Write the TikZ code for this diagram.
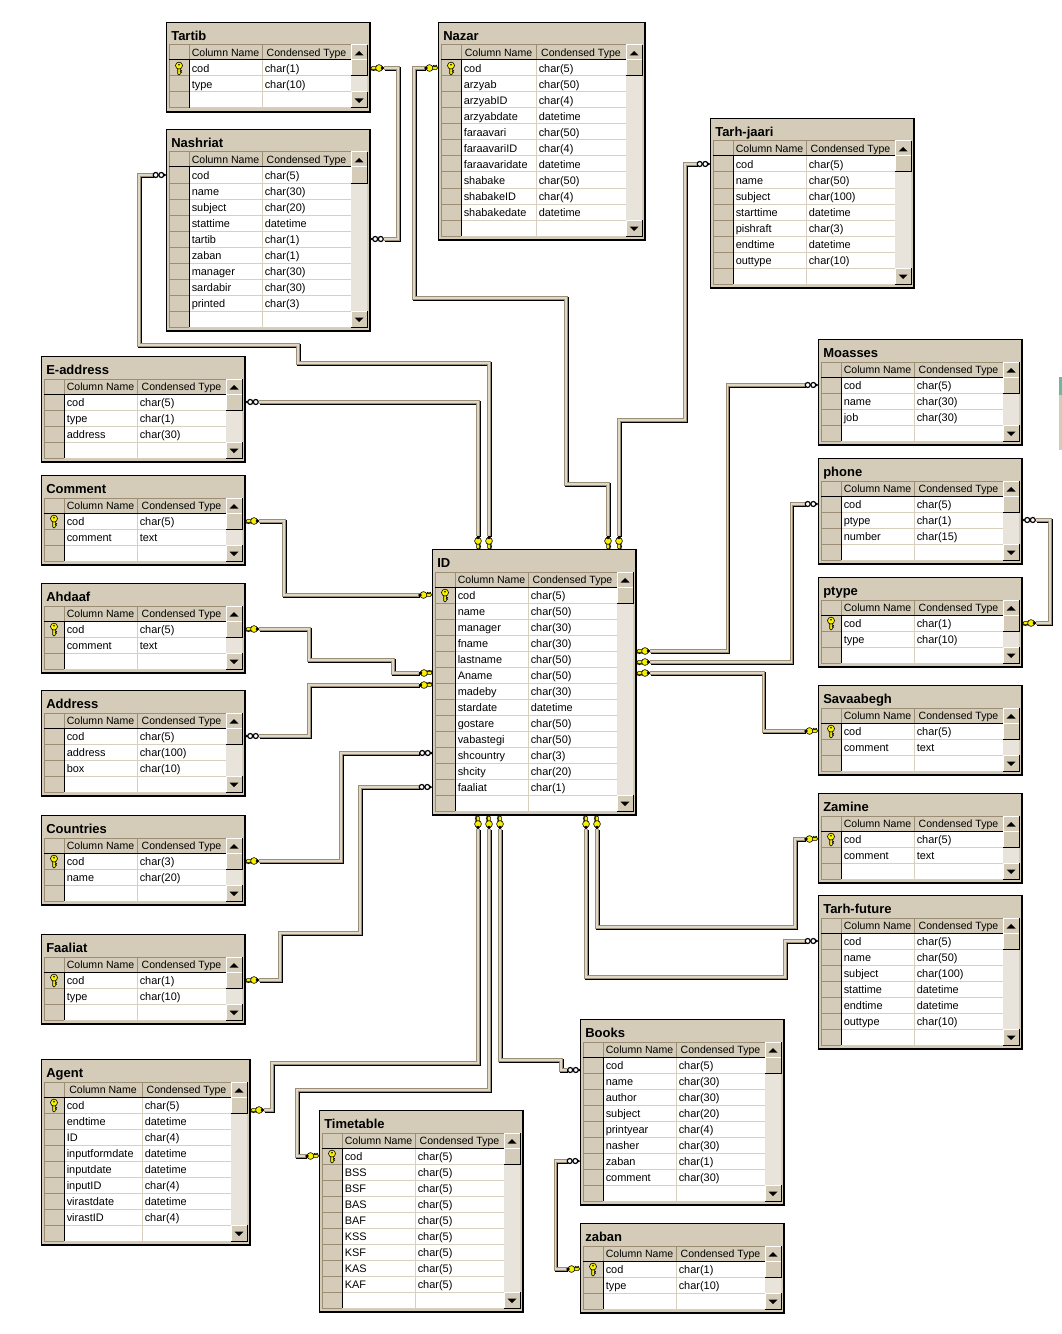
\documentclass[tikz,border=0pt]{standalone}
\usepackage{fontspec}
\setmainfont{Liberation Sans}
\usepackage{tikz}
\usetikzlibrary{positioning}

\definecolor{panelTan}{HTML}{D4CCB8}
\definecolor{trackTan}{HTML}{E8E4DB}
\definecolor{gridTan}{HTML}{D8D0BE}
\definecolor{edgeBrown}{HTML}{9C8E74}
\definecolor{lineCream}{HTML}{DED8CA}
\definecolor{keyYellow}{HTML}{F8F000}
\definecolor{sliverTeal}{HTML}{6DB89F}

\tikzset{
    tableframe/.style={draw=black, line width=.85pt, fill=panelTan, rectangle, inner sep=0pt, outer sep=0pt},
    tabletitle/.style={anchor=west, inner sep=0pt, font=\fontsize{9.75}{11}\selectfont\bfseries, text height=7.5pt, text depth=2pt},
    celltext/.style={inner sep=0pt, font=\fontsize{8.2}{10}\selectfont, text height=8pt, text depth=1.6pt},
    headtext/.style={celltext, font=\fontsize{7.9}{10}\selectfont},
    gridline/.style={draw=gridTan, line width=.75pt},
    cellline/.style={draw=edgeBrown, line width=.75pt},
    darkline/.style={draw=black, line width=.75pt},
    relline/.style={
        preaction={draw=black, line width=2.3pt, transform canvas={xshift=.75pt, yshift=-.75pt}},
        draw=edgeBrown, line width=.72pt, double=lineCream, double distance=.85pt,
        shorten <=10.5pt, shorten >=10.5pt},
    % key at the one side of a relationship, teeth against the table
    keyend/.pic={
        \draw[line width=.45pt, fill=keyYellow] (1,0) -- (2,-1.4) -- (7,-1.4) -- (7,1.4) -- (5.5,1.4) -- (5,2.6) -- (4.2,1.4) -- (3.5,2.6) -- (2.8,1.4) -- (2,2.6) -- cycle;
        \draw[line width=.45pt, fill=keyYellow] (9,0) circle (3.4);
        \fill[black] (12.5,0) circle (1.8);
    },
    % two links at the many side of a relationship
    infend/.pic={
        \draw[line width=.9pt, fill=white] (5.2,0) circle (2.5);
        \draw[line width=.9pt, fill=white] (10.8,0) circle (2.5);
        \fill[black] (1.8,0) circle (1.3);
    },
    % primary key mark in the selector column
    keymark/.pic={
        \draw[line width=.45pt, fill=keyYellow] (-1.3,0) -- (1.3,0) -- (1.3,2) -- (2.6,2.6) -- (1.3,3.4) -- (2.6,4.2) -- (1.3,5) -- (1.3,5.8) -- (0,7) -- (-1.3,5.8) -- cycle;
        \draw[line width=.45pt, fill=keyYellow] (0,-2.4) circle (3.5);
        \fill[black] (0,-3.2) circle (.9);
    }
}

% button of a table's scroll bar: x, y, arrow (1 up, -1 down, 0 none)
\newcommand{\scrollbtn}[3]{
    \fill[panelTan] (#1,#2) rectangle ++(16,16);
    \draw[white, line width=.75pt] (#1,#2+15.5) -- (#1,#2) -- (#1+16,#2);
    \draw[black, line width=.75pt] (#1,#2+16) -- (#1+16,#2+16) -- (#1+16,#2);
    \ifnum#3=1 \fill[black] (#1+3.5,#2+10.5) -- (#1+12.5,#2+10.5) -- (#1+8,#2+6) -- cycle; \fi
    \ifnum#3=-1 \fill[black] (#1+3.5,#2+6.5) -- (#1+12.5,#2+6.5) -- (#1+8,#2+11) -- cycle; \fi
}

% id, left, top, width, name column, rows with the blank one, key mark (1/0), rows
\newcommand{\dbtable}[8]{
    \pgfmathsetmacro\rowsbot{37+16*#6}
    \pgfmathsetmacro\namex{22+#5}
    \pgfmathsetmacro\scrollx{#4-19}
    \node[tableframe, anchor=north west, minimum width=(#4+.5)*.75pt, minimum height=(41.5+16*#6)*.75pt] (#1) at (#2-.5,#3-.5) {};
    \begin{scope}[shift={(#2,#3)}]
        \node[tabletitle] (#1-title) at (4,13.6) {#1};
        \fill[white] (22,37) rectangle (\scrollx,\rowsbot);
        \fill[trackTan] (\scrollx,37) rectangle (#4-3,\rowsbot);
        \foreach \k in {1,...,#6} {
            \draw[gridline] (22,37+16*\k) -- (\scrollx,37+16*\k);
            \draw[cellline] (2,37+16*\k) -- (22,37+16*\k);
        }
        \draw[gridline] (\namex,37) -- (\namex,\rowsbot);
        \draw[cellline] (2,22) -- (\scrollx,22);
        \draw[cellline] (2,22) -- (2,\rowsbot);
        \draw[cellline] (22,22) -- (22,37);
        \draw[cellline] (\namex,22) -- (\namex,37);
        \draw[darkline] (2,37) -- (\scrollx,37);
        \draw[darkline] (22,37) -- (22,\rowsbot);
        \node[headtext] (#1-hname) at ({22+#5/2},29.2) {Column Name};
        \node[headtext] (#1-htype) at ({(\namex+\scrollx)/2},29.2) {Condensed Type};
        \foreach \cname/\ctype [count=\i] in {#8} {
            \node[celltext, anchor=west] (#1-\i) at (24.5,29+16*\i) {\cname};
            \node[celltext, anchor=west] (#1-t\i) at (\namex+2.5,29+16*\i) {\ctype};
        }
        \scrollbtn{\scrollx}{22}{1}
        \scrollbtn{\scrollx}{37}{0}
        \scrollbtn{\scrollx}{\rowsbot-16}{-1}
        \ifnum#7=1 \pic at (12,45) {keymark}; \fi
    \end{scope}
}

\begin{document}
\begin{tikzpicture}[x=.75pt, y=-.75pt]
    \useasboundingbox (0,0) rectangle (1062,1334);

    % Tables of the top row
    \dbtable{Tartib}{167}{23}{203}{73}{3}{1}{cod/char(1),type/char(10)}
    \dbtable{Nashriat}{167}{130}{203}{73}{10}{0}{cod/char(5),name/char(30),subject/char(20),stattime/datetime,tartib/char(1),zaban/char(1),manager/char(30),sardabir/char(30),printed/char(3)}
    \dbtable{Nazar}{439}{23}{206}{75}{11}{1}{cod/char(5),arzyab/char(50),arzyabID/char(4),arzyabdate/datetime,faraavari/char(50),faraavariID/char(4),faraavaridate/datetime,shabake/char(50),shabakeID/char(4),shabakedate/datetime}
    \dbtable{Tarh-jaari}{711}{119}{203}{73}{8}{0}{cod/char(5),name/char(50),subject/char(100),starttime/datetime,pishraft/char(3),endtime/datetime,outtype/char(10)}

    % Tables of the left column
    \dbtable{E-address}{42}{357}{203}{73}{4}{0}{cod/char(5),type/char(1),address/char(30)}
    \dbtable{Comment}{42}{476}{203}{73}{3}{1}{cod/char(5),comment/text}
    \dbtable{Ahdaaf}{42}{584}{203}{73}{3}{1}{cod/char(5),comment/text}
    \dbtable{Address}{42}{691}{203}{73}{4}{0}{cod/char(5),address/char(100),box/char(10)}
    \dbtable{Countries}{42}{816}{203}{73}{3}{1}{cod/char(3),name/char(20)}
    \dbtable{Faaliat}{42}{935}{203}{73}{3}{1}{cod/char(1),type/char(10)}
    \dbtable{Agent}{42}{1060}{208}{78}{9}{1}{cod/char(5),endtime/datetime,ID/char(4),inputformdate/datetime,inputdate/datetime,inputID/char(4),virastdate/datetime,virastID/char(4)}

    % The central table
    \dbtable{ID}{433}{550}{203}{73}{14}{1}{cod/char(5),name/char(50),manager/char(30),fname/char(30),lastname/char(50),Aname/char(50),madeby/char(30),stardate/datetime,gostare/char(50),vabastegi/char(50),shcountry/char(3),shcity/char(20),faaliat/char(1)}

    % Tables of the bottom row
    \dbtable{Timetable}{320}{1111}{203}{73}{10}{1}{cod/char(5),BSS/char(5),BSF/char(5),BAS/char(5),BAF/char(5),KSS/char(5),KSF/char(5),KAS/char(5),KAF/char(5)}
    \dbtable{Books}{581}{1020}{203}{73}{9}{0}{cod/char(5),name/char(30),author/char(30),subject/char(20),printyear/char(4),nasher/char(30),zaban/char(1),comment/char(30)}
    \dbtable{zaban}{581}{1224}{203}{73}{3}{1}{cod/char(1),type/char(10)}

    % Tables of the right column
    \dbtable{Moasses}{819}{340}{203}{73}{4}{0}{cod/char(5),name/char(30),job/char(30)}
    \dbtable{phone}{819}{459}{203}{73}{4}{0}{cod/char(5),ptype/char(1),number/char(15)}
    \dbtable{ptype}{819}{578}{203}{73}{3}{1}{cod/char(1),type/char(10)}
    \dbtable{Savaabegh}{819}{686}{203}{73}{3}{1}{cod/char(5),comment/text}
    \dbtable{Zamine}{819}{794}{203}{73}{3}{1}{cod/char(5),comment/text}
    \dbtable{Tarh-future}{819}{896}{203}{73}{7}{0}{cod/char(5),name/char(50),subject/char(100),stattime/datetime,endtime/datetime,outtype/char(10)}

    % Where the connectors meet the central table
    \coordinate (IDtop1) at (478,550);
    \coordinate (IDtop2) at (489,550);
    \coordinate (IDtop3) at (608,550);
    \coordinate (IDtop4) at (619,550);
    \coordinate (IDbot1) at (478,815);
    \coordinate (IDbot2) at (489,815);
    \coordinate (IDbot3) at (500,815);
    \coordinate (IDbot4) at (586,815);
    \coordinate (IDbot5) at (597,815);
    \coordinate (IDleft2) at (433,673);
    \coordinate (IDleft3) at (433,685);
    \coordinate (IDleft4) at (433,753);
    \coordinate (IDright1) at (636,651);
    \coordinate (IDright2) at (636,662);
    \coordinate (IDright3) at (636,673);
    % Ends that sit off a row
    \coordinate (Agentport) at (250,1110);
    \coordinate (Booksport) at (581,1070);

    % 1. Tartib to Nashriat
    \draw[relline] (Tartib.east |- Tartib-1) -- ++(28,0) |- (Nashriat.east |- Nashriat-5);
    \pic at (Tartib.east |- Tartib-1) {keyend};
    \pic at (Nashriat.east |- Nashriat-5) {infend};

    % 2. Nazar to ID
    \draw[relline] (Nazar.west |- Nazar-1) -| (414,298) -| (566,484) -| (IDtop3);
    \pic[rotate=180] at (Nazar.west |- Nazar-1) {keyend};
    \pic[rotate=90] at (IDtop3) {keyend};

    % 3. Tarh-jaari to ID
    \draw[relline] (Tarh-jaari.west |- Tarh-jaari-1) -| (685,420) -| (IDtop4);
    \pic[rotate=180] at (Tarh-jaari.west |- Tarh-jaari-1) {infend};
    \pic[rotate=90] at (IDtop4) {keyend};

    % 4. Nashriat to ID
    \draw[relline] (Nashriat.west |- Nashriat-1) -| (139,345) -| (298,363) -| (IDtop2);
    \pic[rotate=180] at (Nashriat.west |- Nashriat-1) {infend};
    \pic[rotate=90] at (IDtop2) {keyend};

    % 5. E-address to ID
    \draw[relline] (E-address.east |- E-address-1) -| (IDtop1);
    \pic at (E-address.east |- E-address-1) {infend};
    \pic[rotate=90] at (IDtop1) {keyend};

    % 6. Comment to ID
    \draw[relline] (Comment.east |- Comment-1) -- ++(39,0) |- (ID.west |- ID-1);
    \pic at (Comment.east |- Comment-1) {keyend};
    \pic[rotate=180] at (ID.west |- ID-1) {keyend};

    % 7. Ahdaaf to ID
    \draw[relline] (Ahdaaf.east |- Ahdaaf-1) -| (309,660) -| (393,673) -- (IDleft2);
    \pic at (Ahdaaf.east |- Ahdaaf-1) {keyend};
    \pic[rotate=180] at (IDleft2) {keyend};

    % 8. Address to ID
    \draw[relline] (Address.east |- Address-1) -- ++(64,0) |- (IDleft3);
    \pic at (Address.east |- Address-1) {infend};
    \pic[rotate=180] at (IDleft3) {keyend};

    % 9. Countries to ID
    \draw[relline] (Countries.east |- Countries-1) -- ++(96,0) |- (IDleft4);
    \pic at (Countries.east |- Countries-1) {keyend};
    \pic[rotate=180] at (IDleft4) {infend};

    % 10. Faaliat to ID
    \draw[relline] (Faaliat.east |- Faaliat-1) -| (280,933) -| (360,787) -- (ID.west |- ID-13);
    \pic at (Faaliat.east |- Faaliat-1) {keyend};
    \pic[rotate=180] at (ID.west |- ID-13) {infend};

    % 11. Agent to ID
    \draw[relline] (Agentport) -| (272,1063) -| (IDbot1);
    \pic at (Agentport) {keyend};
    \pic[rotate=-90] at (IDbot1) {keyend};

    % 12. Timetable to ID
    \draw[relline] (Timetable.west |- Timetable-1) -| (297,1090) -| (IDbot2);
    \pic[rotate=180] at (Timetable.west |- Timetable-1) {keyend};
    \pic[rotate=-90] at (IDbot2) {keyend};

    % 13. Books to ID
    \draw[relline] (Booksport) -| (561,1060) -| (IDbot3);
    \pic[rotate=180] at (Booksport) {infend};
    \pic[rotate=-90] at (IDbot3) {keyend};

    % 14. zaban to Books
    \draw[relline] (zaban.west |- zaban-1) -- ++(-25,0) |- (Books.west |- Books-7);
    \pic[rotate=180] at (zaban.west |- zaban-1) {keyend};
    \pic[rotate=180] at (Books.west |- Books-7) {infend};

    % 15. Tarh-future to ID
    \draw[relline] (Tarh-future.west |- Tarh-future-1) -| (785,977) -| (IDbot4);
    \pic[rotate=180] at (Tarh-future.west |- Tarh-future-1) {infend};
    \pic[rotate=-90] at (IDbot4) {keyend};

    % 16. Zamine to ID
    \draw[relline] (Zamine.west |- Zamine-1) -| (795,927) -| (IDbot5);
    \pic[rotate=180] at (Zamine.west |- Zamine-1) {keyend};
    \pic[rotate=-90] at (IDbot5) {keyend};

    % 17. Moasses to ID
    \draw[relline] (Moasses.west |- Moasses-1) -- ++(-91,0) |- (IDright1);
    \pic[rotate=180] at (Moasses.west |- Moasses-1) {infend};
    \pic at (IDright1) {keyend};

    % 18. phone to ID
    \draw[relline] (phone.west |- phone-1) -- ++(-27,0) |- (IDright2);
    \pic[rotate=180] at (phone.west |- phone-1) {infend};
    \pic at (IDright2) {keyend};

    % 19. Savaabegh to ID
    \draw[relline] (Savaabegh.west |- Savaabegh-1) -- ++(-55,0) |- (IDright3);
    \pic[rotate=180] at (Savaabegh.west |- Savaabegh-1) {keyend};
    \pic at (IDright3) {keyend};

    % 20. phone to ptype
    \draw[relline] (phone.east |- phone-2) -- ++(28,0) |- (ptype.east |- ptype-1);
    \pic at (phone.east |- phone-2) {infend};
    \pic at (ptype.east |- ptype-1) {keyend};

    % Sliver at the right edge of the picture
    \fill[panelTan] (1059,395) rectangle (1062,450);
    \fill[sliverTeal] (1059,377) rectangle (1062,395);
\end{tikzpicture}
\end{document}
